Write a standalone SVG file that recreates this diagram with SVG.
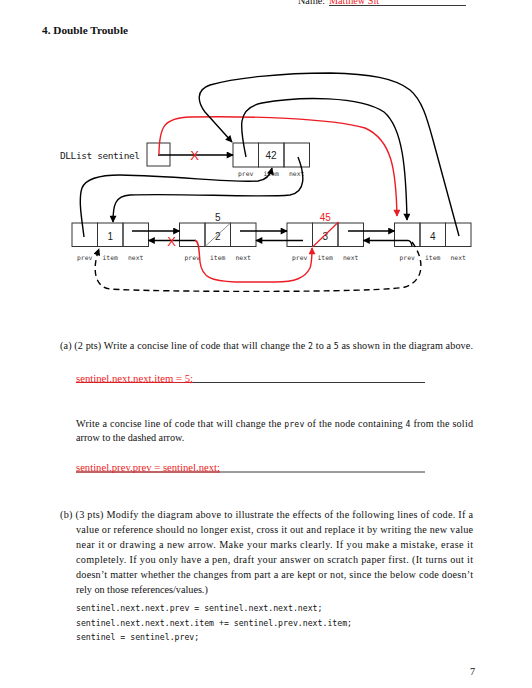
<svg xmlns="http://www.w3.org/2000/svg" width="532" height="688" viewBox="0 0 532 688">
<style>
.t{font-family:"Liberation Serif",serif;font-size:10.2px;fill:#111}
.b{font-weight:bold;font-size:10px}
.tt{font-family:"DejaVu Sans Mono",monospace;font-size:8.2px}
.red{fill:#ed1c24}
.code{font-family:"DejaVu Sans Mono",monospace;font-size:8.2px;fill:#111}
.lbl{font-family:"DejaVu Sans Mono",monospace;font-size:6.4px;text-anchor:middle;fill:#333}
.val{font-family:"Liberation Sans",sans-serif;font-size:10px;text-anchor:middle;fill:#222}
.mk{font-family:"Liberation Sans",sans-serif;font-size:13px;text-anchor:middle;fill:#ed1c24}
.cell{fill:none;stroke:#333;stroke-width:1}
.ar{fill:none;stroke:#000;stroke-width:1.4;marker-end:url(#ah)}
.arr{fill:none;stroke:#ed1c24;stroke-width:1.4;marker-end:url(#ahr)}
.dash{stroke-dasharray:6 4}
.ul{stroke:#222;stroke-width:0.9}
</style>
<defs>
<marker id="ah" viewBox="0 0 10 10" refX="9" refY="5" markerWidth="10" markerHeight="7" markerUnits="userSpaceOnUse" orient="auto"><path d="M0,0 L10,5 L0,10 z" fill="#000"/></marker>
<marker id="ahr" viewBox="0 0 10 10" refX="9" refY="5" markerWidth="10" markerHeight="7" markerUnits="userSpaceOnUse" orient="auto"><path d="M0,0 L10,5 L0,10 z" fill="#ed1c24"/></marker>
</defs>
<rect width="532" height="688" fill="#fff"/>

<g id="header">
<text class="t" x="298" y="3.5" font-size="9.5">Name:</text>
<text class="t red" x="329" y="3.5" font-size="9.5">Matthew Sit</text>
<line class="ul" x1="329" y1="5.5" x2="466" y2="5.5"/>
<text class="t b" x="42" y="33.5" textLength="86" lengthAdjust="spacingAndGlyphs">4. Double Trouble</text>
</g>

<g id="sentinel">
<text x="60" y="159" font-family="DejaVu Sans Mono, monospace" font-size="9.5" fill="#222" textLength="80">DLList sentinel</text>
<rect class="cell" x="147" y="143" width="23" height="23"/>
</g>

<g id="node42">
<rect class="cell" x="233" y="143" width="25.5" height="24"/>
<rect class="cell" x="258.5" y="143" width="25.5" height="24"/>
<rect class="cell" x="284" y="143" width="25.5" height="24"/>
<text class="val" x="271" y="159">42</text>
<text class="lbl" x="245.7" y="176">prev</text>
<text class="lbl" x="271.2" y="176">item</text>
<text class="lbl" x="296.7" y="176">next</text>
</g>

<g id="node1">
<rect class="cell" x="72" y="223" width="25.5" height="23.5"/>
<rect class="cell" x="97.5" y="223" width="25.5" height="23.5"/>
<rect class="cell" x="123" y="223" width="25.5" height="23.5"/>
<text class="val" x="110.2" y="239.5">1</text>
<text class="lbl" x="84.7" y="260">prev</text>
<text class="lbl" x="110.2" y="260">item</text>
<text class="lbl" x="135.7" y="260">next</text>
</g>

<g id="node2">
<rect class="cell" x="179.5" y="223" width="25.5" height="23.5"/>
<rect class="cell" x="205" y="223" width="25.5" height="23.5"/>
<rect class="cell" x="230.5" y="223" width="25.5" height="23.5"/>
<text class="val" x="217.7" y="239.5">2</text>
<line x1="205" y1="246.5" x2="230.5" y2="223" stroke="#777" stroke-width="0.8"/>
<text class="val" x="217.7" y="220.5">5</text>
<text class="lbl" x="192.2" y="260">prev</text>
<text class="lbl" x="217.7" y="260">item</text>
<text class="lbl" x="243.2" y="260">next</text>
</g>

<g id="node3">
<rect class="cell" x="287" y="223" width="25.5" height="23.5"/>
<rect class="cell" x="312.5" y="223" width="25.5" height="23.5"/>
<rect class="cell" x="338" y="223" width="25.5" height="23.5"/>
<text class="val" x="325.2" y="239.5" fill="#555">3</text>
<line x1="312.5" y1="247" x2="338.5" y2="222" stroke="#ed1c24" stroke-width="1.2"/>
<text class="val" x="325.2" y="221" style="fill:#ed1c24">45</text>
<text class="lbl" x="299.7" y="260">prev</text>
<text class="lbl" x="325.2" y="260">item</text>
<text class="lbl" x="350.7" y="260">next</text>
</g>

<g id="node4">
<rect class="cell" x="394.5" y="223" width="25.5" height="23.5"/>
<rect class="cell" x="420" y="223" width="25.5" height="23.5"/>
<rect class="cell" x="445.5" y="223" width="25.5" height="23.5"/>
<text class="val" x="432.7" y="239.5">4</text>
<text class="lbl" x="407.2" y="260">prev</text>
<text class="lbl" x="432.7" y="260">item</text>
<text class="lbl" x="458.2" y="260">next</text>
</g>

<g id="connectors">
<path class="ar" d="M158,155 L233,155"/>
<path class="arr" d="M159,155 C159,125 165,118 190,117 C250,116 330,118 365,128 C392,140 396,170 397,216"/>
<path class="ar" d="M246,157 C240,128 236,108 262,103 C300,96 360,96 384,112 C403,128 406,170 407,220"/>
<path class="ar" d="M459,236 L433,140 C427,118 422,100 410,90 C395,78 370,74 330,73 C280,73 235,78 210,85 C195,90 198,103 205,112 L232,142"/>
<path class="ar" d="M298,157 C305,175 306,192 290,195 C260,198 180,193 130,195 C115,196 113,205 113,222"/>
<path class="ar" d="M84,237 C82,220 78,200 82,188 C86,178 100,175 120,175 C180,176 230,183 258,181 C266,180 270,176 272,168"/>
<path class="ar" d="M132,231 L179.5,231"/>
<path class="ar" d="M196,240.5 L148.5,240.5"/>
<path class="ar" d="M240,231 L287,231"/>
<path class="ar" d="M303,240.5 L256,240.5"/>
<path class="ar" d="M348,231 L394.5,231"/>
<path class="ar" d="M412,246 Q411,240.5 408,240.5 L363.5,240.5"/>
<path class="ar dash" d="M412,242 C424,258 426,280 405,287 C380,293 150,292 110,289 C94,287 92,268 99,249"/>
<path class="arr" d="M195,240.5 C199,240.5 199,250 200,262 C202,278 212,281 235,282 L275,282 C295,282 305,278 310,268 C312,262 312,256 312,248"/>
<text class="mk" x="194.5" y="159.7">X</text>
<text class="mk" x="171.5" y="245.8">X</text>
</g>

<g id="parta">
<text class="t" x="60" y="349" textLength="413" lengthAdjust="spacing">(a) (2 pts) Write a concise line of code that will change the <tspan class="tt">2</tspan> to a <tspan class="tt">5</tspan> as shown in the diagram above.</text>
<line class="ul" x1="76" y1="382.5" x2="425" y2="382.5"/>
<line x1="76" y1="382.5" x2="193" y2="382.5" stroke="#ed1c24" stroke-width="0.9"/>
<text class="t red" x="76" y="381.5" textLength="117" lengthAdjust="spacingAndGlyphs">sentinel.next.next.item = 5;</text>
<text class="t" x="76" y="427" textLength="397" lengthAdjust="spacing">Write a concise line of code that will change the <tspan class="tt">prev</tspan> of the node containing <tspan class="tt">4</tspan> from the solid</text>
<text class="t" x="76" y="441">arrow to the dashed arrow.</text>
<line class="ul" x1="76" y1="472" x2="425" y2="472"/>
<line x1="76" y1="472" x2="220" y2="472" stroke="#ed1c24" stroke-width="0.9"/>
<text class="t red" x="76" y="470.5" textLength="144" lengthAdjust="spacingAndGlyphs">sentinel.prev.prev = sentinel.next;</text>
</g>

<g id="partb">
<text class="t" x="60" y="518" textLength="413" lengthAdjust="spacing">(b) (3 pts) Modify the diagram above to illustrate the effects of the following lines of code. If a</text>
<text class="t" x="76" y="532.5" textLength="397" lengthAdjust="spacing">value or reference should no longer exist, cross it out and replace it by writing the new value</text>
<text class="t" x="76" y="547.5" textLength="397" lengthAdjust="spacing">near it or drawing a new arrow. Make your marks clearly. If you make a mistake, erase it</text>
<text class="t" x="76" y="562.5" textLength="397" lengthAdjust="spacing">completely. If you only have a pen, draft your answer on scratch paper first. (It turns out it</text>
<text class="t" x="76" y="577.5" textLength="397" lengthAdjust="spacing">doesn’t matter whether the changes from part a are kept or not, since the below code doesn’t</text>
<text class="t" x="76" y="592.5">rely on those references/values.)</text>
<text class="code" x="76" y="611">sentinel.next.next.prev = sentinel.next.next.next;</text>
<text class="code" x="76" y="625.5">sentinel.next.next.next.item += sentinel.prev.next.item;</text>
<text class="code" x="76" y="640">sentinel = sentinel.prev;</text>
<text class="t" x="470" y="675">7</text>
</g>
</svg>
